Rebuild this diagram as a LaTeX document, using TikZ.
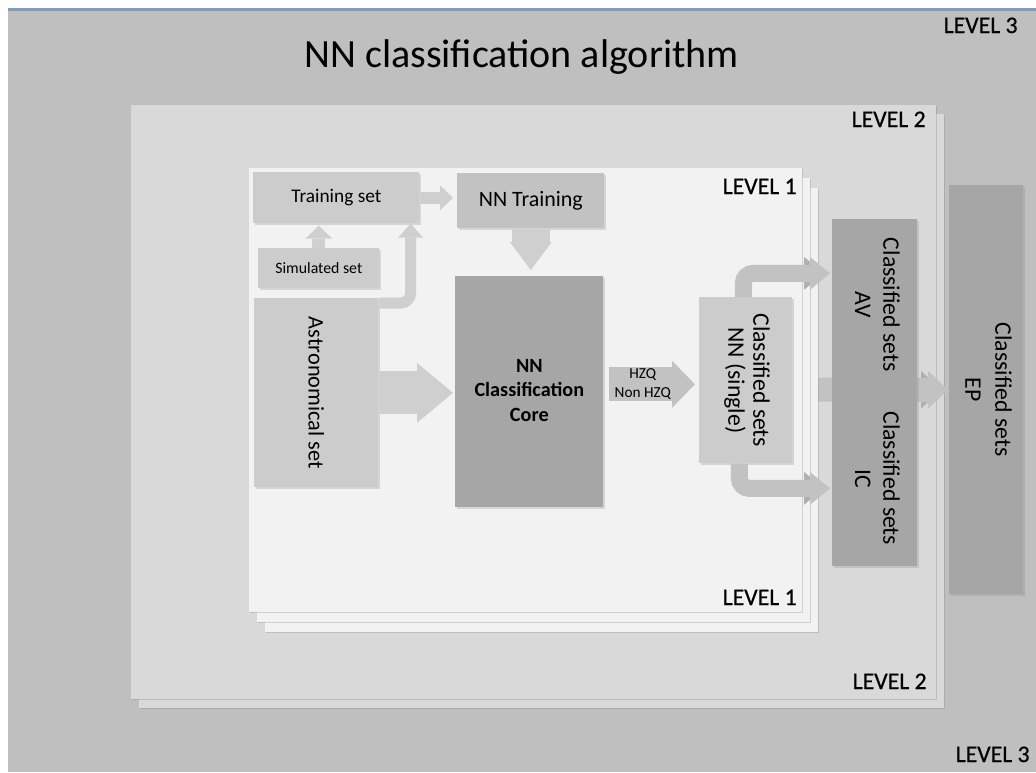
\documentclass[tikz,border=0pt]{standalone}
\usepackage{fontspec}
\setmainfont{Carlito}
\usepackage{graphicx}
\usetikzlibrary{arrows.meta,shadows}
\definecolor{levelthree}{HTML}{BFBFBF}
\definecolor{leveltwo}{HTML}{D9D9D9}
\definecolor{levelone}{HTML}{F2F2F2}
\definecolor{boxlight}{HTML}{CCCCCC}
\definecolor{boxdark}{HTML}{A6A6A6}
\definecolor{arrowlight}{HTML}{CFCFCF}
\definecolor{arrowmid}{HTML}{C2C2C2}
\definecolor{arrowback}{HTML}{B0B0B0}
\definecolor{topline}{HTML}{7F9BBF}
\begin{document}
\begin{tikzpicture}[x=0.02cm,y=-0.02cm,
  sheet/.style={drop shadow={opacity=0.3,shadow xshift=0.8pt,shadow yshift=-0.8pt}},
  lvl/.style={font=\fontsize{13.5}{14}\selectfont\addfontfeature{FakeBold=0.6},anchor=base east,inner sep=0pt},
  setbox/.style={fill=boxlight,inner sep=0pt,anchor=north west,drop shadow={opacity=0.25,shadow xshift=1pt,shadow yshift=-1pt}},
  corebox/.style={setbox,fill=boxdark},
  fat/.style n args={4}{draw=#1,line width=#2,-{Triangle[width=#3,length=#4,line width=0pt]}}]
\useasboundingbox (0,0) rectangle (1036,772);
\fill[white] (0,0) rectangle (1036,772);
\fill[levelthree] (8,9) rectangle (1036,772);
\draw[topline,line width=1.2pt] (8,9.5) -- (1036,9.5);
\node[font=\fontsize{22.8}{26}\selectfont,anchor=base] (title) at (521.5,67) {NN classification algorithm};
\node[lvl] (lvlthreetop) at (1018,33) {LEVEL 3};
\node[lvl] (lvlthreebot) at (1030,762) {LEVEL 3};
\node[corebox,minimum width=1.48cm,minimum height=8.18cm,font=\fontsize{13.5}{17}\selectfont] (ep) at (949,185) {\rotatebox{-90}{\begin{tabular}{@{}c@{}}Classified sets\\EP\end{tabular}}};
\fill[leveltwo,sheet] (139,114) rectangle (944,708);
\fill[leveltwo,sheet] (131,105) rectangle (936,699);
\node[lvl] (lvltwotop) at (926,127) {LEVEL 2};
\node[lvl] (lvltwobot) at (927,689) {LEVEL 2};
\coordinate (midfrom) at (790,389.5);
\draw[fat={arrowback}{0.48cm}{0.76cm}{0.4cm}] ([xshift=-1.2cm]ep.west) -- ([xshift=-0.16cm]ep.west);
\draw[fat={arrowmid}{0.48cm}{0.76cm}{0.4cm},shorten >=0.02cm] (midfrom) -- (ep.west);
\fill[levelone,sheet] (265,188) rectangle (818,632);
\fill[levelone,sheet] (257,178) rectangle (810,622);
\fill[levelone,sheet] (249,168) rectangle (802,612);
\node[lvl] (lvlonetop) at (797,194) {LEVEL 1};
\node[lvl] (lvlonebot) at (797,605) {LEVEL 1};
\node[setbox,minimum width=3.32cm,minimum height=1.02cm,font=\fontsize{11}{13}\selectfont] (train) at (253,172) {Training set};
\node[setbox,fill=boxlight!95!black,minimum width=2.94cm,minimum height=1.1cm,font=\fontsize{12.5}{14}\selectfont] (nntrain) at (457,173) {NN Training};
\node[setbox,minimum width=2.42cm,minimum height=0.8cm,font=\fontsize{9}{11}\selectfont] (sim) at (258,248) {\raisebox{-0.18cm}{Simulated set}};
\node[setbox,minimum width=2.48cm,minimum height=3.78cm,font=\fontsize{12.7}{14}\selectfont] (astro) at (254,298) {\rotatebox{-90}{Astronomical set}};
\node[corebox,minimum width=2.96cm,minimum height=4.62cm,font=\fontsize{11.5}{14}\selectfont\bfseries] (core) at (455,276) {\raisebox{0.22cm}{\begin{tabular}{@{}c@{}}NN\\Classification\\Core\end{tabular}}};
\node[setbox,minimum width=1.86cm,minimum height=3.32cm,font=\fontsize{13.5}{14.2}\selectfont] (nns) at (699,297) {\rotatebox{-90}{\begin{tabular}{@{}c@{}}Classified sets\\NN (single)\end{tabular}}};
\node[corebox,minimum width=1.7cm,minimum height=3.42cm,font=\fontsize{13.5}{16}\selectfont] (av) at (832,219) {\rotatebox{-90}{\begin{tabular}{@{}c@{}}Classified sets\\AV\end{tabular}}};
\node[corebox,minimum width=1.7cm,minimum height=3.52cm,font=\fontsize{13.5}{16}\selectfont] (ic) at (832,390) {\rotatebox{-90}{\begin{tabular}{@{}c@{}}Classified sets\\IC\end{tabular}}};
\draw[fat={arrowlight}{0.26cm}{0.54cm}{0.26cm},shorten >=0.04cm] (sim.north) -- (sim.north |- train.south);
\draw[fat={arrowlight}{0.24cm}{0.5cm}{0.26cm},shorten >=0.08cm] (train.east) -- (train.east -| nntrain.west);
\draw[fat={arrowlight}{0.22cm}{0.5cm}{0.28cm},rounded corners=0.2cm] ([yshift=-0.1cm]astro.north east) -| ([xshift=-0.18cm]train.south east);
\draw[fat={arrowlight}{0.76cm}{0.84cm}{0.56cm},shorten >=0.12cm] (nntrain.south) -- (nntrain.south |- core.north);
\draw[fat={arrowlight}{0.86cm}{1.2cm}{0.72cm},shorten >=0.04cm] (astro.east) -- (astro.east -| core.west);
\draw[fat={arrowmid}{0.68cm}{0.94cm}{0.46cm},shorten <=0.1cm,shorten >=0.08cm] ([yshift=0.15cm]core.east) -- ([yshift=0.15cm]core.east -| nns.west)
  node[pos=0.41,align=center,font=\fontsize{8.7}{10.6}\selectfont] (hzq) {HZQ\\Non HZQ};
\draw[fat={arrowback}{0.34cm}{0.66cm}{0.4cm}] ([xshift=-0.9cm,yshift=0.63cm]av.west) -- ([xshift=-0.16cm,yshift=0.63cm]av.west);
\draw[fat={arrowmid}{0.34cm}{0.66cm}{0.4cm},rounded corners=0.2cm,shorten >=0.04cm] ([xshift=-0.05cm]nns.north) |- ([yshift=0.63cm]av.west);
\draw[fat={arrowback}{0.34cm}{0.66cm}{0.4cm}] ([xshift=-0.9cm,yshift=-0.2cm]ic.west) -- ([xshift=-0.16cm,yshift=-0.2cm]ic.west);
\draw[fat={arrowmid}{0.34cm}{0.66cm}{0.4cm},rounded corners=0.2cm,shorten >=0.04cm] ([xshift=-0.13cm]nns.south) |- ([yshift=-0.2cm]ic.west);
\end{tikzpicture}
\end{document}
